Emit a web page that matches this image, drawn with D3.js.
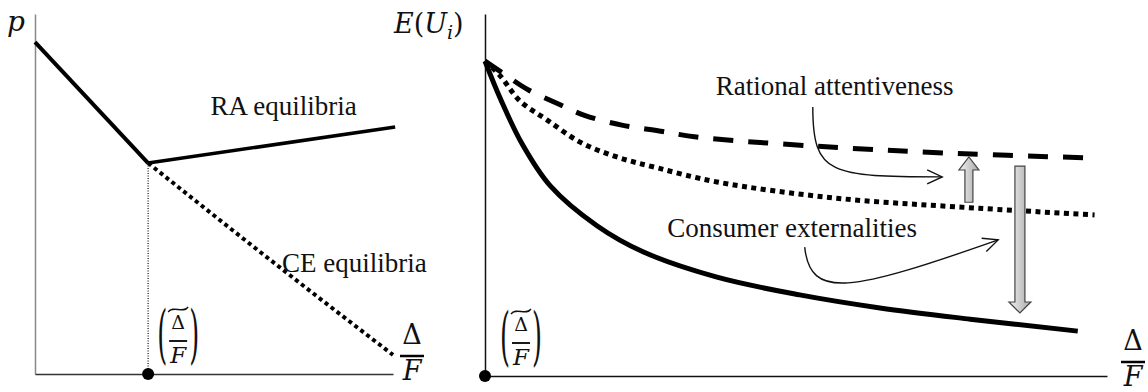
<!DOCTYPE html>
<html>
<head>
<meta charset="utf-8">
<title>Equilibria and expected utility</title>
<script src="https://d3js.org/d3.v7.min.js"></script>
<style>
  body { margin: 0; background: #fff; }
  .lbl { font-family: "Liberation Serif", "Times New Roman", serif; font-size: 27px; fill: #111; }
  .math { font-family: "DejaVu Serif", serif; fill: #111; }
</style>
</head>
<body>
<svg width="1148" height="392"></svg>
<script>
// ---- left panel: price p vs Delta/F ----
const declineX = [0, 31.6], declineY = [92.2, 58.6];
const raX = [31.6, 100.6], raY = [58.6, 68.6];
const ceX = [31.6, 68.4, 100], ceY = [58.6, 29.6, 5.3];
const kinkX = 31.6;

// ---- right panel: E(U_i) vs Delta/F ----
const dashedX = [0, 3, 7, 12, 16, 22, 28, 34, 53, 74, 98];
const dashedY = [87, 83.5, 79, 75, 72, 69.3, 67.7, 66, 63.5, 61.6, 60.2];
const dottedX = [0, 2.4, 5.6, 10, 15.3, 21.2, 27.7, 37.3, 56, 76, 98];
const dottedY = [87, 83, 76, 70.7, 64.6, 60.5, 57.5, 53.6, 49.2, 46.7, 44.5];
const solidX = [0, 2.5, 6, 10.5, 18, 25.4, 37.3, 50.6, 63.5, 78, 95.3];
const solidY = [87, 76.5, 64, 52.5, 41.5, 34.3, 27.3, 22.4, 18.8, 15.7, 12.4];

// block arrows: x, from y, to y (tip)
const upArrow = [77.8, 48, 60.5];
const downArrow = [86, 58, 17.4];

// annotation texts and their pointer curves (data units)
const noteText = ["Rational attentiveness", "Consumer externalities"];
const noteX = [37.1, 29.3], noteY = [77.6, 38.4];
const notePaths = [
  [[52.7, 74.3], [52.7, 55.5], [55.5, 55], [73.5, 55]],
  [[51.4, 35.6], [52.3, 21], [58.7, 23.2], [82.5, 37.6]]
];

const svg = d3.select("svg");
const defs = svg.append("defs");

const grad = defs.append("linearGradient").attr("id", "grey")
  .attr("x1", 0).attr("y1", 0).attr("x2", 1).attr("y2", 0);
grad.append("stop").attr("offset", "0%").attr("stop-color", "#f2f2f2");
grad.append("stop").attr("offset", "100%").attr("stop-color", "#a8a8a8");

defs.append("marker").attr("id", "chev")
  .attr("viewBox", "-16 -8 18 16").attr("refX", 0).attr("refY", 0)
  .attr("markerWidth", 18).attr("markerHeight", 16)
  .attr("markerUnits", "userSpaceOnUse").attr("orient", "auto")
  .append("path").attr("d", "M-15,-7L0,0L-15,7")
  .attr("fill", "none").attr("stroke", "#111").attr("stroke-width", 1.4);

// scales
const xL = d3.scaleLinear().domain([0, 100]).range([35, 393]);
const yL = d3.scaleLinear().domain([0, 100]).range([374, 14]);
const xR = d3.scaleLinear().domain([0, 100]).range([485, 1107]);
const yR = d3.scaleLinear().domain([0, 100]).range([376, 14]);

function axes(x, y, colY, colX) {
  const ay = svg.append("g").attr("transform", "translate(" + x.range()[0] + ",0)")
    .call(d3.axisLeft(y).tickValues([]).tickSizeOuter(0));
  ay.select(".domain").attr("stroke", colY).attr("stroke-width", 1.5);
  const ax = svg.append("g").attr("transform", "translate(0," + y.range()[0] + ")")
    .call(d3.axisBottom(x).tickValues([]).tickSizeOuter(0));
  ax.select(".domain").attr("stroke", colX).attr("stroke-width", 1.5);
}
axes(xL, yL, "#888", "#333");
axes(xR, yR, "#111", "#111");

function draw(xs, ys, x, y, w, dash, curve) {
  const pts = xs.map((v, i) => [v, ys[i]]);
  const line = d3.line().x(d => x(d[0])).y(d => y(d[1])).curve(curve || d3.curveLinear);
  svg.append("path").attr("d", line(pts))
    .attr("fill", "none").attr("stroke", "#000").attr("stroke-width", w)
    .attr("stroke-dasharray", dash);
}

// left panel curves
svg.append("line")
  .attr("x1", xL(kinkX)).attr("x2", xL(kinkX))
  .attr("y1", yL(raY[0])).attr("y2", yL(0))
  .attr("stroke", "#111").attr("stroke-width", 1.2).attr("stroke-dasharray", "1,1.5");
draw(ceX, ceY, xL, yL, 4, "4,3.5", d3.curveMonotoneX);
draw(declineX, declineY, xL, yL, 4, null);
draw(raX, raY, xL, yL, 3.5, null);
svg.append("circle").attr("cx", xL(kinkX)).attr("cy", yL(0)).attr("r", 6).attr("fill", "#000");

// right panel curves
const smooth = d3.curveCatmullRom.alpha(0.5);
draw(dashedX, dashedY, xR, yR, 5, "20,15", smooth);
draw(dottedX, dottedY, xR, yR, 5, "5,4.5", smooth);
draw(solidX, solidY, xR, yR, 5, null, smooth);
svg.append("circle").attr("cx", xR(0)).attr("cy", yR(0)).attr("r", 6).attr("fill", "#000");

// block arrows
function blockArrow(a, shaft, head, headLen) {
  const cx = xR(a[0]), y0 = yR(a[1]), y1 = yR(a[2]);
  const s = y1 < y0 ? 1 : -1;
  const hb = y1 + s * headLen;
  const p = d3.path();
  p.moveTo(cx - shaft, y0); p.lineTo(cx - shaft, hb); p.lineTo(cx - head, hb);
  p.lineTo(cx, y1); p.lineTo(cx + head, hb); p.lineTo(cx + shaft, hb);
  p.lineTo(cx + shaft, y0); p.closePath();
  svg.append("path").attr("d", p.toString())
    .attr("fill", "url(#grey)").attr("stroke", "#444").attr("stroke-width", 1.2);
}
blockArrow(upArrow, 4, 10, 13);
blockArrow(downArrow, 5, 11, 11);

// annotations
noteText.forEach((t, i) => {
  svg.append("text").attr("class", "lbl")
    .attr("x", xR(noteX[i])).attr("y", yR(noteY[i])).text(t);
  const c = notePaths[i].map(d => [xR(d[0]), yR(d[1])]);
  const p = d3.path();
  p.moveTo(c[0][0], c[0][1]);
  p.bezierCurveTo(c[1][0], c[1][1], c[2][0], c[2][1], c[3][0], c[3][1]);
  svg.append("path").attr("d", p.toString()).attr("fill", "none")
    .attr("stroke", "#111").attr("stroke-width", 1.4).attr("marker-end", "url(#chev)");
});

svg.append("text").attr("class", "lbl").attr("x", xL(49)).attr("y", 115).text("RA equilibria");
svg.append("text").attr("class", "lbl").attr("x", xL(69)).attr("y", 272).text("CE equilibria");

// axis titles
svg.append("text").attr("class", "math").attr("x", 7).attr("y", 31)
  .attr("font-size", 28).attr("font-style", "italic").text("p");

const eu = svg.append("text").attr("class", "math").attr("x", 394).attr("y", 33).attr("font-size", 27);
eu.append("tspan").attr("font-style", "italic").text("E");
eu.append("tspan").text("(");
eu.append("tspan").attr("font-style", "italic").text("U");
eu.append("tspan").attr("font-style", "italic").attr("font-size", 19).attr("dy", 6).text("i");
eu.append("tspan").attr("dy", -6).text(")");

function bigFrac(cx, barY) {
  svg.append("text").attr("class", "math").attr("x", cx).attr("y", barY - 12)
    .attr("font-size", 27).attr("text-anchor", "middle").text("Δ");
  svg.append("line").attr("x1", cx - 12).attr("x2", cx + 12).attr("y1", barY).attr("y2", barY)
    .attr("stroke", "#000").attr("stroke-width", 2.5);
  svg.append("text").attr("class", "math").attr("x", cx).attr("y", barY + 24)
    .attr("font-size", 27).attr("font-style", "italic").attr("text-anchor", "middle").text("F");
}
bigFrac(412, 356);
bigFrac(1133, 362);

function tildeFrac(cx, barY) {
  const g = svg.append("g");
  g.append("text").attr("class", "math").attr("font-size", 64)
    .attr("transform", "translate(" + (cx - 21) + "," + (barY + 15) + ") scale(0.4,1)").text("(");
  g.append("text").attr("class", "math").attr("font-size", 64).attr("text-anchor", "end")
    .attr("transform", "translate(" + (cx + 21) + "," + (barY + 15) + ") scale(0.4,1)").text(")");
  g.append("text").attr("class", "math").attr("x", cx).attr("y", barY - 12)
    .attr("font-size", 19).attr("text-anchor", "middle").text("Δ");
  const tp = d3.path();
  tp.moveTo(cx - 10, barY - 29);
  tp.bezierCurveTo(cx - 5, barY - 36, cx + 5, barY - 27, cx + 10, barY - 34);
  g.append("path").attr("d", tp.toString()).attr("fill", "none")
    .attr("stroke", "#111").attr("stroke-width", 1.3);
  g.append("line").attr("x1", cx - 9).attr("x2", cx + 9).attr("y1", barY).attr("y2", barY)
    .attr("stroke", "#000").attr("stroke-width", 1.8);
  g.append("text").attr("class", "math").attr("x", cx).attr("y", barY + 22)
    .attr("font-size", 23).attr("font-style", "italic").attr("text-anchor", "middle").text("F");
}
tildeFrac(xL(kinkX) + 30, 341);
tildeFrac(xR(0) + 36, 343);
</script>
</body>
</html>
